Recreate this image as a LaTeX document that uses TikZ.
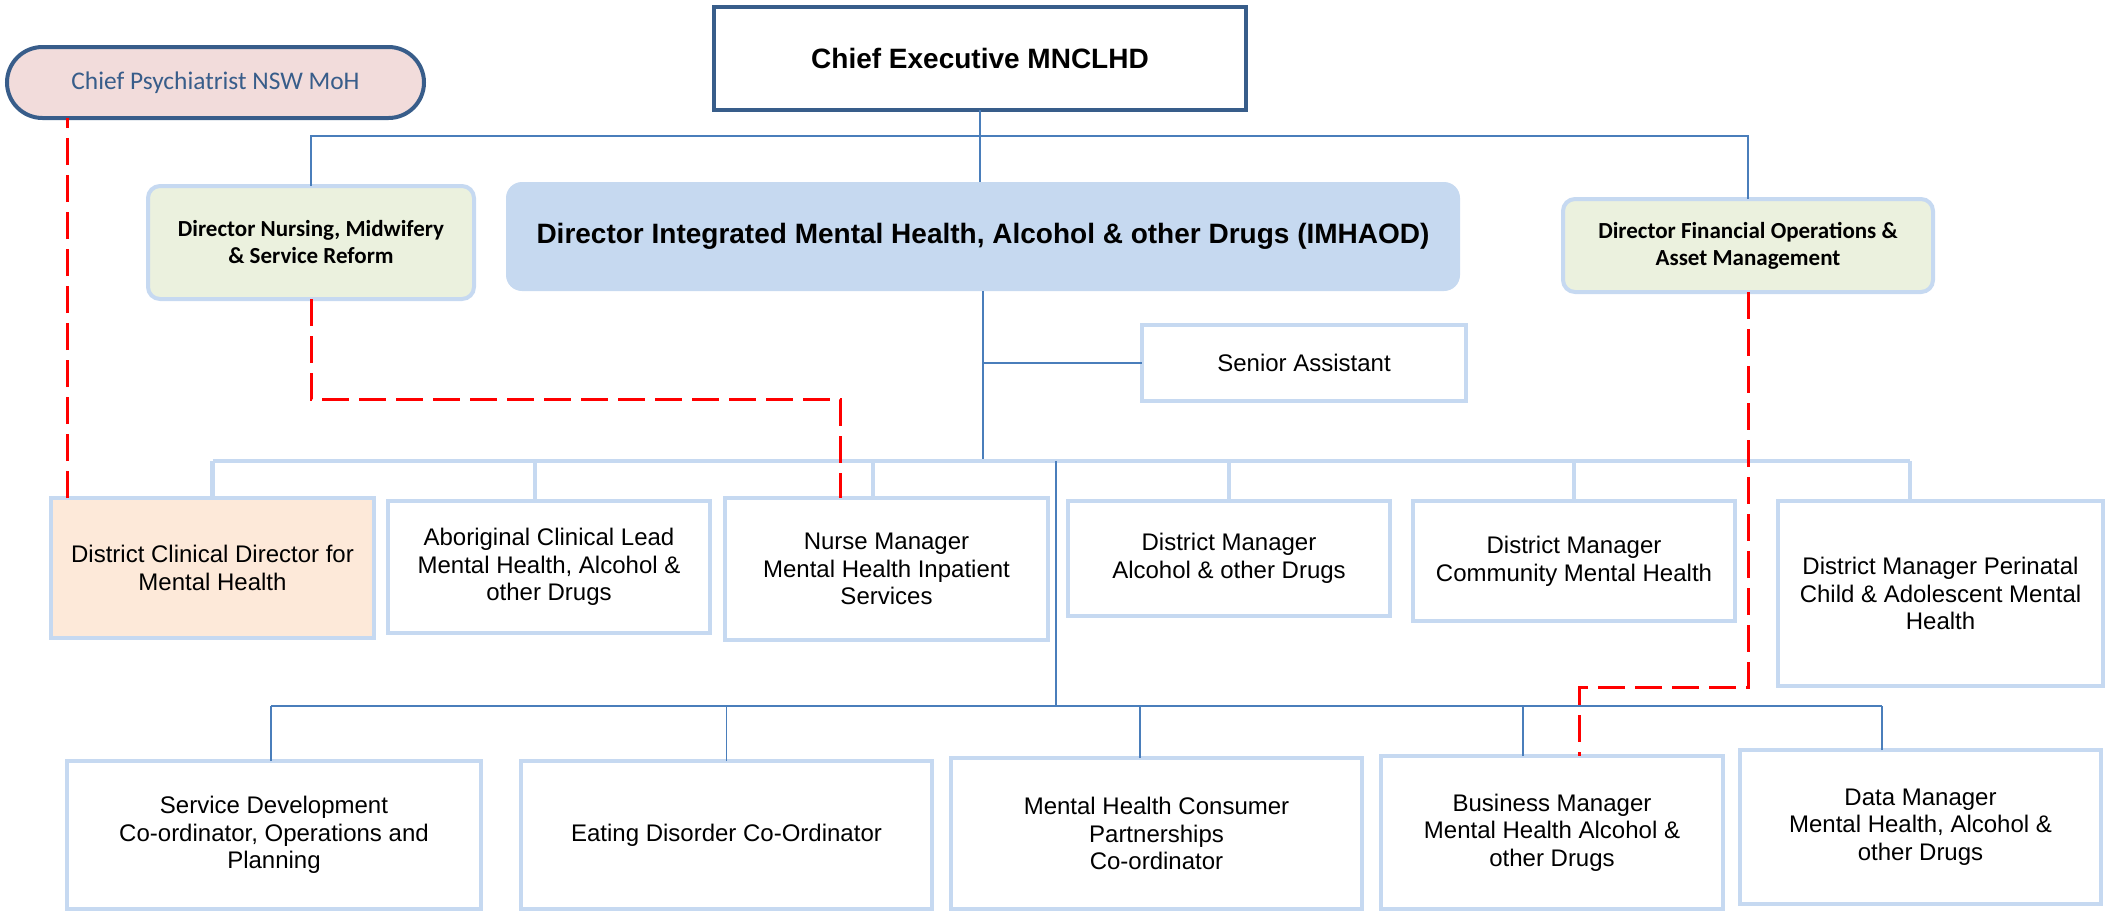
\documentclass[tikz,border=0pt]{standalone}
\usepackage{fontspec}
\setmainfont{Liberation Sans}
\newfontfamily\calfont{Carlito}
\usetikzlibrary{calc,shapes.misc}
\definecolor{ceblue}{HTML}{385D8A}
\definecolor{lblue}{HTML}{C6D9F1}
\definecolor{imhfill}{HTML}{C6D9F0}
\definecolor{gfill}{HTML}{EBF1DE}
\definecolor{peach}{HTML}{FDE9D9}
\definecolor{pinkfill}{HTML}{F2DCDB}
\definecolor{lineblue}{HTML}{4A7EBB}
\definecolor{dred}{HTML}{FF0000}
\newcommand\pbox[7]{\node[#6, minimum width={(#4-#2)*0.5pt}, minimum height={(#5-#3)*0.5pt}] (#1) at ({(#2+#4)/2},{(#3+#5)/2}) {#7};}
\begin{document}
\begin{tikzpicture}[x=0.5pt,y=-0.5pt,
  base/.style={inner sep=0pt, outer sep=0pt, align=center, font=\fontsize{12pt}{13.8pt}\selectfont},
  rolebox/.style={base, draw=lblue, line width=2pt, fill=white},
  greenbox/.style={base, draw=lblue, line width=2pt, fill=gfill, rounded corners=6pt, font=\calfont\bfseries\fontsize{11.5pt}{13.5pt}\selectfont},
  imhbox/.style={base, fill=imhfill, rounded corners=8pt, font=\bfseries\fontsize{14pt}{16pt}\selectfont},
  cebox/.style={base, draw=ceblue, line width=2pt, fill=white, font=\bfseries\fontsize{14pt}{16pt}\selectfont},
  stadium/.style={base, rounded rectangle, draw=ceblue, line width=2pt, fill=pinkfill, text=ceblue, font=\calfont\fontsize{12.7pt}{14pt}\selectfont},
  thinline/.style={draw=lineblue, line width=0.9pt},
  thickbus/.style={draw=lblue, line width=2.2pt},
  reddash/.style={draw=dred, line width=1.5pt, dash pattern=on 13.5pt off 5pt}
]
\useasboundingbox (0,0) rectangle (2112,911);
% nodes
\pbox{cp}{7}{47}{424}{118}{stadium}{Chief Psychiatrist NSW MoH}
\pbox{ce}{714}{7}{1246}{110}{cebox}{Chief Executive MNCLHD}
\pbox{dn}{148}{186}{474}{299}{greenbox}{Director Nursing, Midwifery\\\& Service Reform}
\pbox{imh}{506}{182}{1460}{291}{imhbox}{Director Integrated Mental Health, Alcohol \& other Drugs (IMHAOD)}
\pbox{df}{1563}{199}{1933}{292}{greenbox}{Director Financial Operations \&\\Asset Management}
\pbox{sa}{1142}{325}{1466}{401}{rolebox}{Senior Assistant}
% row 2
\pbox{dcd}{51}{498}{374}{638}{rolebox,fill=peach}{District Clinical Director for\\Mental Health}
\pbox{acl}{388}{501}{710}{633}{rolebox}{Aboriginal Clinical Lead\\Mental Health, Alcohol \&\\other Drugs}
\pbox{nm}{725}{498}{1048}{640}{rolebox}{Nurse Manager\\Mental Health Inpatient\\Services}
\pbox{dma}{1068}{501}{1390}{616}{rolebox}{District Manager\\Alcohol \& other Drugs}
\pbox{dmc}{1413}{501}{1735}{621}{rolebox}{District Manager\\Community Mental Health}
\pbox{dmp}{1778}{501}{2103}{686}{rolebox}{District Manager Perinatal\\Child \& Adolescent Mental\\Health}
% row 3
\pbox{sd}{67}{761}{481}{909}{rolebox}{Service Development\\Co-ordinator, Operations and\\Planning}
\pbox{ed}{521}{761}{932}{909}{rolebox}{Eating Disorder Co-Ordinator}
\pbox{mhc}{951}{758}{1362}{909}{rolebox}{Mental Health Consumer\\Partnerships\\Co-ordinator}
\pbox{bm}{1381}{756}{1723}{909}{rolebox}{Business Manager\\Mental Health Alcohol \&\\other Drugs}
\pbox{dm}{1740}{750}{2101}{904}{rolebox}{Data Manager\\Mental Health, Alcohol \&\\other Drugs}
% helper coordinates
\coordinate (topbus) at (0,136);
\coordinate (bus2) at (0,461);
\coordinate (bus3) at (0,706);
\coordinate (mainx) at (1056,0);
\coordinate (rn) at (0,399);
\coordinate (rf) at (0,687);
% top connectors
\draw[thinline] (ce.south) -- (ce.south |- imh.north);
\draw[thinline] (dn.north) -- (dn.north |- topbus) -- (df.north |- topbus) -- (df.north);
\draw[thinline] (imh.south) -- (imh.south |- bus2);
\draw[thinline] (imh.south |- sa.west) -- (sa.west);
% row 2 bus
\draw[thickbus] (dcd.north |- bus2) -- ([xshift=-15.25pt]dmp.north |- bus2);
\draw[thickbus] (dcd.north) -- (dcd.north |- bus2);
\draw[thickbus] ([xshift=-7pt]acl.north) -- ([xshift=-7pt]acl.north |- bus2);
\draw[thickbus] ([xshift=-6.75pt]nm.north) -- ([xshift=-6.75pt]nm.north |- bus2);
\draw[thickbus] (dma.north) -- (dma.north |- bus2);
\draw[thickbus] (dmc.north) -- (dmc.north |- bus2);
\draw[thickbus] ([xshift=-15.25pt]dmp.north) -- ([xshift=-15.25pt]dmp.north |- bus2);
% main vertical and row 3 bus
\draw[thinline] (mainx |- bus2) -- (mainx |- bus3);
\draw[thinline] ([xshift=-1.5pt]sd.north |- bus3) -- ([xshift=-19.25pt]dm.north |- bus3);
\draw[thinline] ([xshift=-1.5pt]sd.north) -- ([xshift=-1.5pt]sd.north |- bus3);
\draw[thinline] (ed.north) -- (ed.north |- bus3);
\draw[thinline] ([xshift=-8.25pt]mhc.north) -- ([xshift=-8.25pt]mhc.north |- bus3);
\draw[thinline] ([xshift=-14.5pt]bm.north) -- ([xshift=-14.5pt]bm.north |- bus3);
\draw[thinline] ([xshift=-19.25pt]dm.north) -- ([xshift=-19.25pt]dm.north |- bus3);
% red dashed lines
\draw[reddash] ([xshift=8pt]dcd.north west) -- ([xshift=8pt]dcd.north west |- cp.south);
\draw[reddash] (dn.south) -- (dn.south |- rn) -| ([xshift=57.5pt]nm.north west);
\draw[reddash] (df.south) -- (df.south |- rf) -| ([xshift=99pt]bm.north west);
\end{tikzpicture}
\end{document}
